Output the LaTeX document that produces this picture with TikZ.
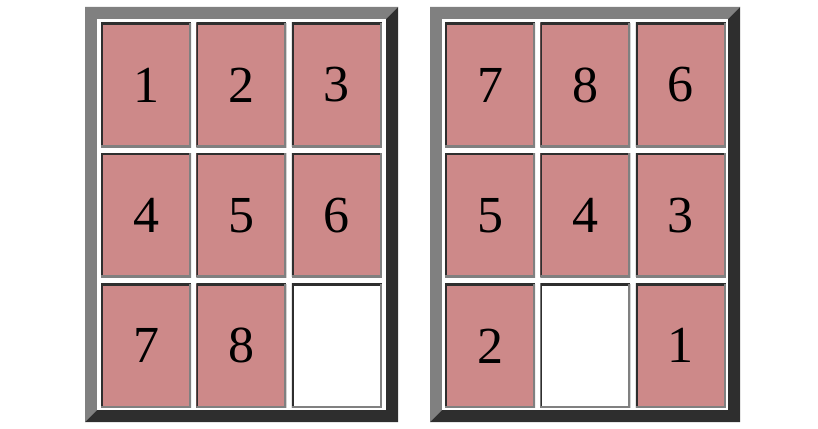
\documentclass[tikz,border=0pt]{standalone}
\usepackage{fontspec}
\setmainfont{Liberation Serif}
\usetikzlibrary{positioning}

\definecolor{pecarosa}{RGB}{205,137,137}
\definecolor{bordaclara}{RGB}{128,128,128}
\definecolor{bordaescura}{RGB}{46,46,46}

\begin{document}
\begin{tikzpicture}[x=1pt, y=-1pt,
    peca/.style={fill=pecarosa, minimum width=90pt, minimum height=124pt, inner sep=0pt,
                 font=\fontsize{52}{52}\selectfont,
                 path picture={
                   \draw[bordaescura, line width=4pt]
                     (path picture bounding box.south west) -- (path picture bounding box.north west)
                     -- (path picture bounding box.north east);
                   \draw[bordaclara, line width=4pt]
                     (path picture bounding box.north east) -- (path picture bounding box.south east)
                     -- (path picture bounding box.south west);}},
    vazia/.style={peca, fill=white},
    node distance=6pt and 5pt]
  \useasboundingbox (0,0) rectangle (818,428);

  % molduras
  \foreach \dx/\w in {0/313,345/310} {
    \begin{scope}[xshift=\dx]
      \fill[bordaclara] (85,7) -- (85+\w,7) -- (73+\w,19) -- (97,19) -- (97,410) -- (85,422) -- cycle;
      \fill[bordaescura] (85+\w,7) -- (85+\w,422) -- (85,422) -- (97,410) -- (73+\w,410) -- (73+\w,19) -- cycle;
      \fill[white] (97,19) rectangle (73+\w,410);
    \end{scope}
  }

  % tabuleiro inicial
  \node[peca] (a1) at (146,85) {1};
  \node[peca, right=of a1] (a2) {2};
  \node[peca, right=of a2] (a3) {3};
  \node[peca, below=of a1] (a4) {4};
  \node[peca, right=of a4] (a5) {5};
  \node[peca, right=of a5] (a6) {6};
  \node[peca, below=of a4] (a7) {7};
  \node[peca, right=of a7] (a8) {8};
  \node[vazia, right=of a8] (a9) {};

  % tabuleiro final
  \node[peca] (b1) at (490,85) {7};
  \node[peca, right=of b1] (b2) {8};
  \node[peca, right=of b2] (b3) {6};
  \node[peca, below=of b1] (b4) {5};
  \node[peca, right=of b4] (b5) {4};
  \node[peca, right=of b5] (b6) {3};
  \node[peca, below=of b4] (b7) {2};
  \node[vazia, right=of b7] (b8) {};
  \node[peca, right=of b8] (b9) {1};
\end{tikzpicture}
\end{document}
